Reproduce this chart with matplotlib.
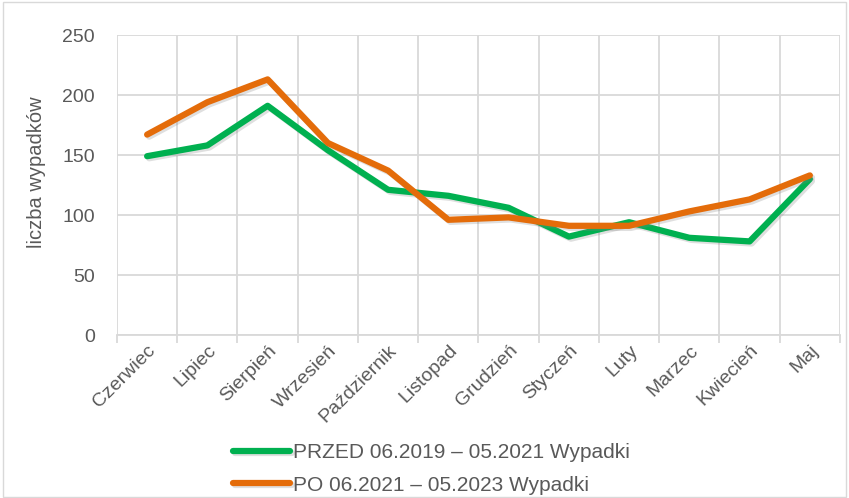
import matplotlib
matplotlib.use("Agg")
import matplotlib.pyplot as plt
import matplotlib.patheffects as pe
from matplotlib.patches import Rectangle

# Months (June to May)
months = ['Czerwiec', 'Lipiec', 'Sierpień', 'Wrzesień', 'Październik', 'Listopad',
          'Grudzień', 'Styczeń', 'Luty', 'Marzec', 'Kwiecień', 'Maj']

# Accidents per month
przed = [149, 158, 191, 154, 121, 116, 106, 82, 94, 81, 78, 130]
po = [167, 194, 213, 160, 137, 96, 98, 91, 91, 103, 113, 133]

label_przed = 'PRZED 06.2019 – 05.2021 Wypadki'
label_po = 'PO 06.2021 – 05.2023 Wypadki'

text_col = '#595959'
grid_col = '#D9D9D9'

plt.rcParams['font.family'] = ['Liberation Sans', 'DejaVu Sans']

fig = plt.figure(figsize=(8.49, 4.98), dpi=100)
ax = fig.add_axes([117 / 849, 1 - 335 / 498, (840 - 117) / 849, 300 / 498])

shadow = [pe.SimpleLineShadow(offset=(1.5, -1.5), alpha=0.25, shadow_color='gray'), pe.Normal()]
x = list(range(len(months)))
ax.plot(x, przed, color='#00B050', lw=4.5, label=label_przed,
        solid_capstyle='round', solid_joinstyle='round', path_effects=shadow)
ax.plot(x, po, color='#E46C0A', lw=4.5, label=label_po,
        solid_capstyle='round', solid_joinstyle='round', path_effects=shadow)

ax.set_xlim(-0.5, 11.5)
ax.set_ylim(0, 250)
ax.set_yticks(range(0, 251, 50))
ax.set_xticks(x)
ax.set_xticklabels(months, rotation=45, ha='right', rotation_mode='anchor')
ax.set_xticks([i - 0.5 for i in range(13)], minor=True)

ax.grid(True, which='major', axis='y', color=grid_col, lw=1.3)
ax.grid(True, which='minor', axis='x', color=grid_col, lw=1.3)
ax.set_axisbelow(True)

ax.tick_params(axis='x', which='major', length=0, pad=5, labelsize=14, labelcolor=text_col)
ax.tick_params(axis='x', which='minor', length=6, width=1.3, color=grid_col)
ax.tick_params(axis='y', length=0, pad=16, labelsize=14, labelcolor=text_col)

for s in ['left', 'right', 'top']:
    ax.spines[s].set_visible(False)
ax.spines['bottom'].set_color(grid_col)
ax.spines['bottom'].set_linewidth(1.3)

ax.set_ylabel('liczba wypadków', fontsize=14.5, color=text_col)
ax.yaxis.set_label_coords((46 - 117) / 723, (335 - 172) / 300)

fig.legend(loc='upper left', bbox_to_anchor=(233 / 849, 1 - 443 / 498), ncol=1,
           frameon=False, fontsize=15, labelcolor=text_col, handlelength=2.75,
           handletextpad=0.15, labelspacing=0.65, borderaxespad=0, borderpad=0)

fig.patches.append(Rectangle((0.004, 0.002), 0.992, 0.994, transform=fig.transFigure,
                             fill=False, edgecolor=grid_col, lw=1))

fig.savefig('out.png', dpi=100)
